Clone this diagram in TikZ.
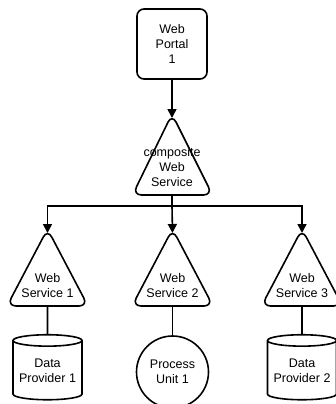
\documentclass[tikz,border=0pt]{standalone}
\usepackage{fontspec}
\setmainfont{Liberation Sans}
\usetikzlibrary{shapes.geometric,arrows.meta}

\tikzset{
	portal/.style={draw, line width=1.6pt, rounded corners=7pt, minimum width=70pt, minimum height=70pt, align=center, inner sep=0pt},
	lbl/.style={align=center, inner sep=0pt, font=\fontsize{12.5}{15}\selectfont},
	tri/.style={line width=1.6pt, rounded corners=9pt},
	store/.style={draw, line width=1.6pt, cylinder, shape border rotate=90, aspect=0.2, minimum width=69pt, minimum height=65pt, align=center, inner sep=0pt},
	unit/.style={draw, line width=1.6pt, circle, minimum size=72pt, align=center, inner sep=0pt},
	link/.style={line width=1.6pt},
	arr/.style={line width=1.6pt, -{Triangle[length=9pt,width=9pt]}}
}

\begin{document}
\begin{tikzpicture}[x=1pt,y=-1pt]
		\clip (0,0) rectangle (336,404);
		
		% top of the chain
		\node[portal, lbl] (portal) at (172,44) {Web\\Portal\\1};
		
		% composite service
		\coordinate (cwt) at (172,118);
		\draw[tri] (172,114) -- (212.5,195) -- (132.5,195) -- cycle;
		\node[lbl] (cws) at (172,167) {composite\\Web\\Service};
		\coordinate (cwb) at (172,195);
		\coordinate (bus) at (172,206);
		
		\draw[arr] (portal) -- (cwt);
		\draw[link] (cwb) -- (bus);
		
		% the three services
		\foreach \n/\x in {1/47.5, 2/172.5, 3/302}
		{
			\coordinate (wst\n) at (\x,233);
			\draw[tri] (\x,229) -- (\x+40.5,306) -- (\x-40.5,306) -- cycle;
			\node[lbl] (ws\n) at (\x,286) {Web\\Service \n};
			\coordinate (wsb\n) at (\x,306);
		}
		
		\draw[arr] (bus) -| (wst1);
		\draw[arr] (bus) -- (wst2);
		\draw[arr] (bus) -| (wst3);
		
		% providers and unit
		\node[store, lbl] (dp1) at (47.5,370.5) {Data\\Provider 1};
		\node[unit, lbl] (pu1) at (172.5,372) {Process\\Unit 1};
		\node[store, lbl] (dp2) at (302,370.5) {Data\\Provider 2};
		
		\draw[link] (wsb1) -- (dp1);
		\draw[link] (wsb2) -- (pu1);
		\draw[link] (wsb3) -- (dp2);
\end{tikzpicture}
\end{document}
